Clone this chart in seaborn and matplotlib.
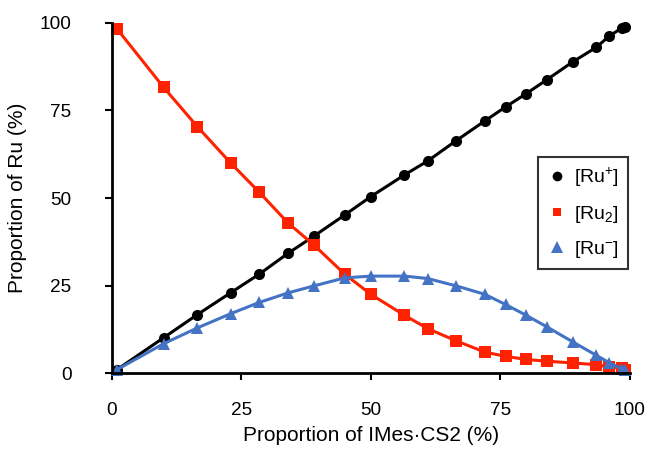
import matplotlib
matplotlib.use("Agg")
import matplotlib.pyplot as plt
import seaborn as sns
import pandas as pd
from matplotlib.lines import Line2D

# Data
x_imes = [1, 10, 16.5, 23, 28.5, 34, 39, 45, 50, 56.5, 61, 66.5, 72, 76, 80, 84, 89, 93.5, 96, 98.5, 99]
ru_plus = [1, 10.1, 16.7, 23, 28.3, 34.2, 39.1, 45.2, 50.4, 56.6, 60.6, 66.4, 72, 76, 79.8, 83.8, 88.9, 93, 96.2, 98.6, 98.9]
ru_2 = [98.3, 81.6, 70.4, 59.9, 51.6, 42.9, 36.6, 28.2, 22.5, 16.5, 12.7, 9.2, 6.0, 4.8, 3.9, 3.4, 2.9, 2.4, 1.8, 1.4, 1.0]
ru_minus = [1, 8.4, 12.9, 17.0, 20.2, 22.9, 24.9, 27.2, 27.7, 27.7, 27.0, 24.9, 22.5, 19.6, 16.5, 13.2, 8.9, 5.1, 3.0, 1.2, 0.8]

series_labels = ["[Ru$^{+}$]", "[Ru$_{2}$]", "[Ru$^{-}$]"]
x_ticks = [0, 25, 50, 75, 100]
y_ticks = [0, 25, 50, 75, 100]

sns.set_theme(style="ticks")
plt.rcParams["font.family"] = ["Liberation Sans", "DejaVu Sans"]
plt.rcParams["mathtext.default"] = "regular"
plt.rcParams["text.color"] = "black"
plt.rcParams["axes.labelcolor"] = "black"

colors = ["#000000", "#FF2200", "#4472C4"]
markers = ["o", "s", "^"]
msizes = [8, 8, 9]

fig = plt.figure(figsize=(6.5, 4.49), dpi=100)
ax = fig.add_axes([0.172, 0.169, 0.797, 0.780])

for vals, c, m, ms in zip([ru_plus, ru_2, ru_minus], colors, markers, msizes):
    df = pd.DataFrame({"x": x_imes, "y": vals})
    sns.lineplot(data=df, x="x", y="y", ax=ax, color=c, linewidth=2.2,
                 marker=m, markersize=ms, markeredgewidth=0, clip_on=False,
                 sort=False, estimator=None)

ax.set_xlim(0, 100)
ax.set_ylim(0, 100)
ax.set_xticks(x_ticks)
ax.set_yticks(y_ticks)
ax.tick_params(axis="both", direction="out", length=5, width=1.5,
               labelsize=13.7, color="black", labelcolor="black")
ax.tick_params(axis="x", pad=16)
ax.tick_params(axis="y", pad=24)
for s in ["top", "right"]:
    ax.spines[s].set_visible(False)
for s in ["left", "bottom"]:
    ax.spines[s].set_linewidth(2)
    ax.spines[s].set_color("black")

ax.set_xlabel("Proportion of IMes·CS2 (%)", fontsize=15, labelpad=5)
ax.set_ylabel("Proportion of Ru (%)", fontsize=15, labelpad=9)

handles = [Line2D([], [], linestyle="none", marker=m, color=c, markersize=ms,
                  markeredgewidth=0) for c, m, ms in zip(colors, markers, [7, 5.5, 8])]
leg = ax.legend(handles, series_labels, loc="upper right",
                bbox_to_anchor=(0.996, 0.617), fontsize=14, frameon=True,
                fancybox=False, edgecolor="black", handlelength=1.0,
                handletextpad=0.4, borderpad=0.45, labelspacing=0.75,
                borderaxespad=0)
leg.get_frame().set_linewidth(1.5)

fig.savefig("out.png", dpi=100)
